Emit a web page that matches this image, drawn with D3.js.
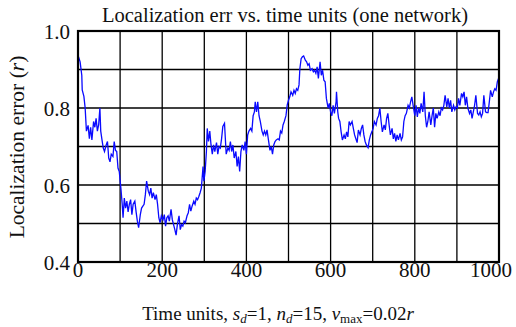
<!DOCTYPE html>
<html>
<head>
<meta charset="utf-8">
<script src="https://cdn.jsdelivr.net/npm/d3@7"></script>
<style>
body { margin: 0; background: #fff; }
text { font-family: "Liberation Serif", "Times New Roman", serif; fill: #111; }
</style>
</head>
<body>
<script>
// time units (x) and localization error (y)
var times = [0,5,9,10,14,17,20,24,27,30,33,37,40,43,46,49,52,54,57,60,63,67,70,73,76,79,83,86,89,92,95,98,
102,105,107,110,113,116,119,122,125,128,131,135,138,141,144,148,151,154,157,160,163,167,170,173,176,179,183,186,189,192,195,198,
202,205,208,211,214,217,221,224,227,230,233,236,240,243,246,249,252,255,259,262,265,268,271,275,278,281,284,287,290,293,297,299,
302,305,307,310,313,316,319,322,325,329,332,335,338,341,344,348,350,352,356,359,362,365,368,371,375,378,381,384,387,390,394,397,
400,403,406,410,413,416,419,421,424,427,430,433,437,440,443,446,449,452,456,459,462,465,468,471,475,478,481,484,487,490,494,497,
500,503,506,510,513,516,519,522,525,527,530,533,536,540,543,546,549,552,556,559,562,565,568,571,575,578,581,584,587,590,594,597,
600,603,606,609,613,614,617,619,622,625,628,632,635,638,641,644,647,651,654,657,660,663,666,670,673,676,679,682,685,689,692,695,698,
701,704,708,711,714,717,720,723,727,730,733,736,739,742,746,749,752,755,758,761,765,768,771,774,777,780,784,787,790,793,796,
800,803,806,809,812,815,819,822,825,828,831,834,838,841,844,847,850,853,857,860,863,866,869,872,876,879,882,885,888,892,895,898,
901,904,907,911,914,917,920,923,926,930,933,936,939,942,945,949,952,955,958,961,964,968,971,974,977,980,984,987,990,993,996,1000];
var errors = [0.937,0.92,0.885,0.847,0.83,0.80,0.74,0.755,0.72,0.75,0.717,0.765,0.75,0.773,0.74,0.756,0.80,0.74,0.717,0.696,0.687,0.704,0.713,0.67,0.66,0.68,0.674,0.713,0.69,0.687,0.644,0.635,
0.59,0.55,0.515,0.566,0.54,0.558,0.53,0.55,0.562,0.523,0.55,0.558,0.53,0.506,0.489,0.523,0.54,0.545,0.55,0.575,0.61,0.584,0.575,0.592,0.566,0.58,0.562,0.575,0.55,0.515,0.502,0.52,
0.51,0.523,0.493,0.515,0.52,0.506,0.537,0.51,0.497,0.484,0.47,0.497,0.52,0.484,0.497,0.493,0.506,0.502,0.52,0.528,0.55,0.532,0.545,0.558,0.55,0.566,0.562,0.57,0.58,0.592,0.648,0.61,
0.635,0.687,0.747,0.713,0.74,0.704,0.68,0.704,0.687,0.71,0.68,0.70,0.696,0.72,0.752,0.76,0.72,0.68,0.696,0.69,0.713,0.687,0.704,0.67,0.687,0.648,0.674,0.635,0.687,0.704,0.69,0.713,
0.68,0.73,0.74,0.747,0.74,0.78,0.79,0.816,0.79,0.816,0.78,0.765,0.74,0.73,0.74,0.73,0.743,0.72,0.69,0.70,0.68,0.704,0.713,0.717,0.72,0.717,0.74,0.735,0.756,0.765,0.78,0.808,
0.82,0.829,0.842,0.833,0.846,0.838,0.85,0.846,0.86,0.902,0.928,0.933,0.935,0.924,0.92,0.911,0.915,0.898,0.902,0.894,0.898,0.89,0.907,0.877,0.92,0.885,0.898,0.872,0.868,0.825,0.80,0.812,
0.79,0.78,0.807,0.786,0.816,0.842,0.79,0.773,0.765,0.738,0.717,0.73,0.72,0.738,0.725,0.765,0.756,0.765,0.747,0.73,0.72,0.71,0.743,0.73,0.747,0.756,0.73,0.713,0.704,0.697,0.717,0.73,0.738,
0.747,0.765,0.756,0.773,0.78,0.80,0.765,0.738,0.756,0.743,0.773,0.786,0.756,0.73,0.747,0.72,0.734,0.713,0.73,0.717,0.734,0.717,0.725,0.765,0.78,0.786,0.807,0.80,0.816,0.829,0.807,
0.78,0.807,0.777,0.80,0.786,0.812,0.79,0.842,0.78,0.75,0.765,0.79,0.756,0.78,0.80,0.75,0.786,0.773,0.79,0.78,0.80,0.795,0.807,0.833,0.803,0.825,0.80,0.82,0.79,0.807,0.795,0.803,
0.80,0.825,0.807,0.838,0.829,0.842,0.807,0.829,0.80,0.786,0.795,0.773,0.79,0.807,0.833,0.786,0.782,0.79,0.777,0.786,0.833,0.79,0.788,0.788,0.816,0.846,0.829,0.842,0.85,0.846,0.868,0.88];
var xTicks = [0, 200, 400, 600, 800, 1000];
var yTicks = [0.4, 0.6, 0.8, 1.0];
var xGrid = d3.range(100, 1000, 100);
var yGrid = [0.5, 0.6, 0.7, 0.8, 0.9];

var W = 516, H = 327;
var pLeft = 78, pRight = 499, pTop = 31, pBottom = 262;

var svg = d3.select("body").append("svg").attr("width", W).attr("height", H);

var x = d3.scaleLinear().domain([0, 1000]).range([pLeft, pRight]);
var y = d3.scaleLinear().domain([0.4, 1.0]).range([pBottom, pTop]);

// grid
svg.selectAll(".vg").data(xGrid).enter().append("line")
    .attr("x1", function(d){ return x(d); }).attr("x2", function(d){ return x(d); })
    .attr("y1", pTop).attr("y2", pBottom)
    .attr("stroke", "#000").attr("stroke-width", 1.3);
svg.selectAll(".hg").data(yGrid).enter().append("line")
    .attr("y1", function(d){ return y(d); }).attr("y2", function(d){ return y(d); })
    .attr("x1", pLeft).attr("x2", pRight)
    .attr("stroke", "#000").attr("stroke-width", 1.3);

// data line
var line = d3.line().x(function(d){ return x(d[0]); }).y(function(d){ return y(d[1]); });
svg.append("path")
    .datum(d3.zip(times, errors))
    .attr("d", line)
    .attr("fill", "none")
    .attr("stroke", "#0a0aff")
    .attr("stroke-width", 1.3);

// frame
svg.append("rect")
    .attr("x", pLeft).attr("y", pTop).attr("width", pRight - pLeft).attr("height", pBottom - pTop)
    .attr("fill", "none").attr("stroke", "#000").attr("stroke-width", 2.2);

// tick labels
svg.selectAll(".xt").data(xTicks).enter().append("text")
    .attr("x", function(d){ return d === 1000 ? 512 : x(d); }).attr("y", pBottom + 15)
    .attr("text-anchor", function(d){ return d === 1000 ? "end" : "middle"; })
    .attr("font-size", 21)
    .text(function(d){ return d; });
svg.selectAll(".yt").data(yTicks).enter().append("text")
    .attr("x", pLeft - 8).attr("y", function(d){ return y(d) + 8; })
    .attr("text-anchor", "end").attr("font-size", 21)
    .text(function(d){ return d.toFixed(1); });

// title
svg.append("text").attr("x", 285).attr("y", 22)
    .attr("text-anchor", "middle").attr("font-size", 20.5)
    .text("Localization err vs. time units (one network)");

// y label
svg.append("text")
    .attr("transform", "translate(24,147) rotate(-90)")
    .attr("text-anchor", "middle").attr("font-size", 21.5)
    .html('Localization error (<tspan font-style="italic">r</tspan>)');

// x label
var xl = svg.append("text").attr("x", 278).attr("y", 320)
    .attr("text-anchor", "middle").attr("font-size", 19);
xl.append("tspan").text("Time units, ");
xl.append("tspan").attr("font-style", "italic").text("s");
xl.append("tspan").attr("font-style", "italic").attr("font-size", 13).attr("dy", 3).text("d");
xl.append("tspan").attr("dy", -3).text("=1, ");
xl.append("tspan").attr("font-style", "italic").text("n");
xl.append("tspan").attr("font-style", "italic").attr("font-size", 13).attr("dy", 3).text("d");
xl.append("tspan").attr("dy", -3).text("=15, ");
xl.append("tspan").attr("font-style", "italic").text("v");
xl.append("tspan").attr("font-size", 13).attr("dy", 3).text("max");
xl.append("tspan").attr("dy", -3).text("=0.02");
xl.append("tspan").attr("font-style", "italic").text("r");
</script>
</body>
</html>
